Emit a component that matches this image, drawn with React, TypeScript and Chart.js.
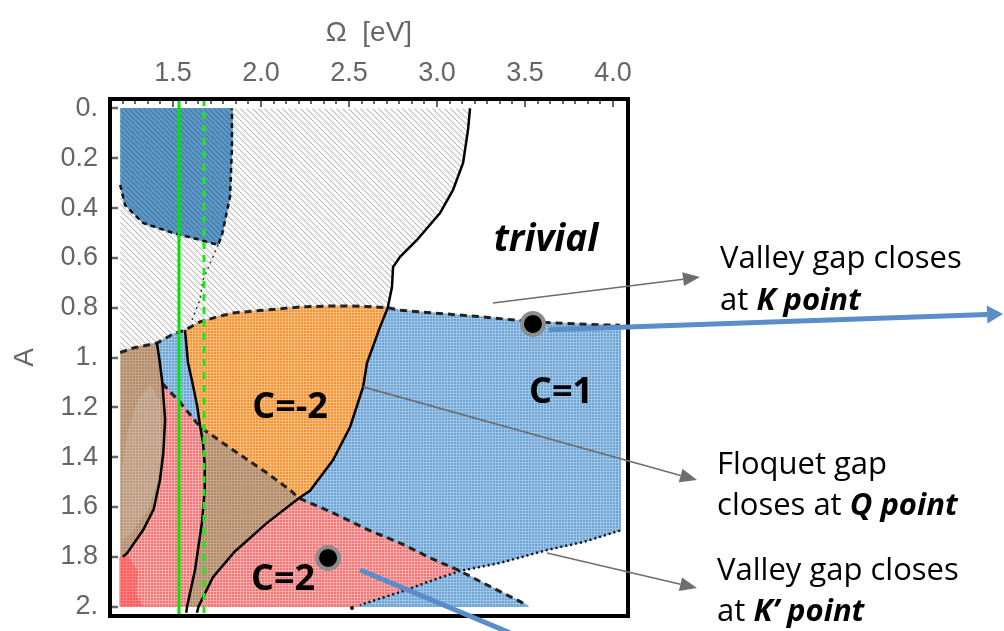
import React, { useEffect, useRef } from 'react';
import { Chart, registerables } from 'chart.js';

Chart.register(...registerables);

type Pt = [number, number];

// ---------- axes ----------
const OMEGA_MIN = 1.142;
const OMEGA_MAX = 4.085;
const A_MIN = -0.038;
const A_MAX = 2.038;
const OMEGA_TICKS = [1.5, 2.0, 2.5, 3.0, 3.5, 4.0];
const OMEGA_TICK_LABELS = ['1.5', '2.0', '2.5', '3.0', '3.5', '4.0'];
const A_TICKS = [0, 0.2, 0.4, 0.6, 0.8, 1.0, 1.2, 1.4, 1.6, 1.8, 2.0];
const A_TICK_LABELS = ['0.', '0.2', '0.4', '0.6', '0.8', '1.', '1.2', '1.4', '1.6', '1.8', '2.'];
const OMEGA_MINOR_STEP = 1 / 14;

// ---------- phase boundaries (Omega [eV], A) ----------
// solid line: Floquet gap closes at Q point
const Q_CURVE: Pt[] = [
  [3.1875, 0.0], [3.176, 0.086], [3.148, 0.219], [3.091, 0.327], [3.017, 0.42],
  [2.886, 0.528], [2.79, 0.596], [2.75, 0.637], [2.744, 0.717], [2.72, 0.8],
  [2.676, 0.878], [2.602, 1.022], [2.58, 1.118], [2.506, 1.279], [2.409, 1.412],
  [2.278, 1.535], [2.215, 1.565], [2.034, 1.664], [1.85, 1.78], [1.727, 1.882],
  [1.645, 2.0], [1.636, 2.025],
];
// dashed line: valley gap closes at K point
const VK_TOP: Pt[] = [
  [1.2, 0.98], [1.273, 0.962], [1.409, 0.942], [1.5, 0.906], [1.568, 0.89],
  [1.653, 0.857], [1.75, 0.837], [1.841, 0.821], [2.034, 0.809], [2.222, 0.797],
  [2.409, 0.793], [2.506, 0.793], [2.6, 0.795], [2.72, 0.8], [2.79, 0.81],
  [2.977, 0.821], [3.261, 0.837], [3.545, 0.857], [3.926, 0.869], [4.04, 0.87],
];
const CURVE_A: Pt[] = [
  [1.409, 0.942], [1.425, 1.02], [1.44, 1.105], [1.455, 1.25], [1.445, 1.384],
  [1.426, 1.492], [1.39, 1.61], [1.33, 1.693], [1.24, 1.785], [1.215, 1.8],
];
const CURVE_B: Pt[] = [
  [1.568, 0.89], [1.585, 1.02], [1.61, 1.1], [1.636, 1.19], [1.655, 1.28],
  [1.67, 1.34], [1.68, 1.43], [1.68, 1.53], [1.665, 1.66], [1.64, 1.78],
  [1.625, 1.853], [1.58, 2.0], [1.575, 2.025],
];
const D2: Pt[] = [
  [1.44, 1.105], [1.54, 1.18], [1.655, 1.28], [1.841, 1.371], [2.034, 1.464],
  [2.165, 1.532], [2.215, 1.565], [2.409, 1.624], [2.602, 1.69], [2.79, 1.745],
  [2.977, 1.81], [3.13, 1.857], [3.261, 1.905], [3.511, 1.994],
];
// dotted line: valley gap closes at K' point
const D3: Pt[] = [
  [4.04, 1.695], [3.83, 1.741], [3.625, 1.773], [3.358, 1.825], [3.13, 1.857],
  [2.977, 1.894], [2.79, 1.942], [2.5625, 1.994],
];
const BH_REGION: Pt[] = [
  [1.2, 0.0], [1.835, 0.0], [1.835, 0.155], [1.824, 0.355], [1.778, 0.508],
  [1.756, 0.548], [1.653, 0.528], [1.5, 0.5], [1.33, 0.46], [1.227, 0.388], [1.2, 0.307],
];
const BH_EDGE: Pt[] = [
  [1.2, 0.307], [1.227, 0.388], [1.33, 0.46], [1.5, 0.5], [1.653, 0.528],
  [1.756, 0.548], [1.778, 0.508], [1.824, 0.355], [1.835, 0.155], [1.835, 0.0],
];
const THIN_DOTS: Pt[] = [[1.756, 0.548], [1.727, 0.596], [1.67, 0.689], [1.653, 0.769], [1.608, 0.849]];
const BROWN_LIGHT: Pt[] = [
  [1.369, 1.11], [1.426, 1.17], [1.438, 1.331], [1.415, 1.492], [1.358, 1.612],
  [1.256, 1.713], [1.21, 1.733], [1.21, 1.452], [1.244, 1.291], [1.301, 1.17],
];
const RED_SPOT: Pt[] = [[1.2, 1.8], [1.24, 1.79], [1.3, 1.86], [1.29, 1.95], [1.33, 2.0], [1.2, 2.0]];
const GREEN_SOLID: Pt[] = [[1.534, A_MIN], [1.534, A_MAX]];
const GREEN_DASHED: Pt[] = [[1.676, A_MIN], [1.676, A_MAX]];
const MARK_POINTS: Pt[] = [[3.545, 0.865], [2.381, 1.805]];
const SMALL_DOT: Pt[] = [[2.517, 2.006]];

// ---------- annotations ----------
const GREY_ARROWS: [Pt, Pt][] = [
  [[3.318, 0.781], [4.494, 0.677]],
  [[2.58, 1.118], [4.477, 1.492]],
  [[3.625, 1.785], [4.477, 1.926]],
];
const BLUE_ARROW: [Pt, Pt] = [[3.636, 0.889], [6.216, 0.825]];
const BLUE_LINE: [Pt, Pt] = [[2.5625, 1.853], [3.53, 2.14]];
const REGION_LABELS: { text: string; at: Pt; italic: boolean }[] = [
  { text: 'trivial', at: [3.619, 0.532], italic: true },
  { text: 'C=-2', at: [2.165, 1.203], italic: false },
  { text: 'C=1', at: [3.705, 1.143], italic: false },
  { text: 'C=2', at: [2.125, 1.893], italic: false },
];
const NOTES: { at: Pt; plain: string; bold: string }[] = [
  { at: [4.608, 0.641], plain: 'Valley gap closes', bold: '' },
  { at: [4.608, 0.809], plain: 'at ', bold: 'K point' },
  { at: [4.591, 1.468], plain: 'Floquet gap', bold: '' },
  { at: [4.591, 1.633], plain: 'closes at ', bold: 'Q point' },
  { at: [4.591, 1.894], plain: 'Valley gap closes', bold: '' },
  { at: [4.591, 2.058], plain: 'at ', bold: 'K\u2019 point' },
];

const seg = (arr: Pt[], i: number, j: number): Pt[] =>
  i <= j ? arr.slice(i, j + 1) : arr.slice(j, i + 1).reverse();
const toXY = (arr: Pt[]) => arr.map(([x, y]) => ({ x, y }));

const NOTE_FONT = '"Open Sans"';

export default function App() {
  const ref = useRef<HTMLCanvasElement | null>(null);

  useEffect(() => {
    const canvas = ref.current;
    if (!canvas) return;
    const mainCtx = canvas.getContext('2d')!;

    const makeGrid = (base: string, light: string, size = 3) => {
      const c = document.createElement('canvas');
      c.width = size; c.height = size;
      const g = c.getContext('2d')!;
      g.fillStyle = base; g.fillRect(0, 0, size, size);
      g.fillStyle = light; g.fillRect(0, 0, size, 1); g.fillRect(0, 0, 1, size);
      return mainCtx.createPattern(c, 'repeat')!;
    };
    const makeHatch = (bg: string, fg: string, size = 5, lw = 1) => {
      const c = document.createElement('canvas');
      c.width = size; c.height = size;
      const g = c.getContext('2d')!;
      g.fillStyle = bg; g.fillRect(0, 0, size, size);
      g.strokeStyle = fg; g.lineWidth = lw;
      g.beginPath();
      for (const o of [-size, 0, size]) { g.moveTo(o, 0); g.lineTo(o + size, size); }
      g.stroke();
      return mainCtx.createPattern(c, 'repeat')!;
    };

    const P = {
      grey: makeHatch('#ffffff', '#bdbdbd', 6, 1.1),
      blueHatch: makeHatch('#5f9bca', '#457aa3', 5, 1.3),
      orange: makeGrid('#f39535', '#f8bb7c'),
      blue: makeGrid('#6aa3d4', '#a0c5e7'),
      red: makeGrid('#f27474', '#f9acac'),
      brown: makeGrid('#b28a68', '#c6a68a'),
      brownLight: makeGrid('#bc9a7e', '#ccb29c'),
      redSpot: makeGrid('#ff5858', '#ff8080'),
    };

    const G = [[1.2, 0.0] as Pt, ...seg(Q_CURVE, 0, 9), ...seg(VK_TOP, 12, 0)];
    const O = [...seg(VK_TOP, 4, 13), ...seg(Q_CURVE, 10, 16), ...seg(D2, 5, 2), ...seg(CURVE_B, 3, 1)];
    const S = [...seg(VK_TOP, 2, 4), ...seg(CURVE_B, 1, 4), ...seg(D2, 1, 0), CURVE_A[1]];
    const R1 = [...seg(CURVE_A, 2, 9), [1.2, 1.8] as Pt, [1.2, 2.0] as Pt, ...seg(CURVE_B, 11, 4), D2[1]];
    const B1 = [...seg(VK_TOP, 0, 2), ...seg(CURVE_A, 1, 9), [1.2, 1.8] as Pt];
    const B2 = [...seg(D2, 2, 6), ...seg(Q_CURVE, 17, 20), ...seg(CURVE_B, 11, 5)];
    const R2 = [...seg(D2, 6, 11), ...seg(D3, 5, 7), [2.5625, 2.0] as Pt, ...seg(Q_CURVE, 20, 17)];
    const C1 = [...seg(VK_TOP, 13, 19), ...seg(D3, 0, 4), ...seg(D2, 10, 6), ...seg(Q_CURVE, 15, 10)];
    const C1b = [...seg(D2, 11, 13), [3.52, 2.0] as Pt, [2.5625, 2.0] as Pt, ...seg(D3, 7, 5)];

    const fillSet = (pts: Pt[], pattern: any, edge: string | null) => ({
      data: toXY(pts), showLine: true, fill: 'shape', backgroundColor: pattern,
      borderColor: edge || 'rgba(0,0,0,0)', borderWidth: edge ? 1 : 0,
      pointRadius: 0, pointHoverRadius: 0, tension: 0,
    });
    const lineSet = (pts: Pt[], color: string, width: number, dash: number[] = []) => ({
      data: toXY(pts), showLine: true, fill: false, borderColor: color, backgroundColor: color,
      borderWidth: width, borderDash: dash, pointRadius: 0, pointHoverRadius: 0, tension: 0,
      borderCapStyle: 'butt',
    });

    const list: any[] = [
      fillSet(G, P.grey, null),
      fillSet(BH_REGION, P.blueHatch, '#5790bd'),
      fillSet(B1, P.brown, '#b89272'),
      fillSet(BROWN_LIGHT, P.brownLight, null),
      fillSet(S, P.blue, '#78abd8'),
      fillSet(R1, P.red, '#f48585'),
      fillSet(RED_SPOT, P.redSpot, null),
      fillSet(B2, P.brown, '#b89272'),
      fillSet(O, P.orange, '#f4a152'),
      fillSet(R2, P.red, '#f48585'),
      fillSet(C1, P.blue, '#78abd8'),
      fillSet(C1b, P.blue, '#78abd8'),
      lineSet(THIN_DOTS, '#333333', 1.5, [2, 4]),
      lineSet(BH_EDGE, '#111111', 2.5, [5, 4]),
      lineSet(D3, '#111111', 2.5, [2, 3]),
      lineSet(D2, '#222222', 3, [7, 5]),
      lineSet(VK_TOP, '#222222', 3, [7, 5]),
      lineSet(CURVE_A, '#000000', 2.5),
      lineSet(CURVE_B, '#000000', 2.5),
      lineSet(Q_CURVE, '#000000', 2.5),
      lineSet(GREEN_SOLID, '#00e400', 3),
      lineSet(GREEN_DASHED, '#22e622', 3, [7, 6]),
      { data: toXY(SMALL_DOT), showLine: false, pointRadius: 2, pointBackgroundColor: '#111', pointBorderWidth: 0 },
      {
        data: toXY(MARK_POINTS), showLine: false, pointRadius: 11, pointBackgroundColor: '#000',
        pointBorderColor: '#8c8c8c', pointBorderWidth: 4, clip: false,
      },
    ];
    const datasets = list.map((d, i) => ({ ...d, order: list.length - i }));

    const arrow = (ctx: CanvasRenderingContext2D, x1: number, y1: number, x2: number, y2: number,
      color: string, width: number, headLen: number, headHalf: number) => {
      const ang = Math.atan2(y2 - y1, x2 - x1);
      const bx = x2 - headLen * Math.cos(ang);
      const by = y2 - headLen * Math.sin(ang);
      ctx.strokeStyle = color; ctx.fillStyle = color; ctx.lineWidth = width; ctx.setLineDash([]);
      ctx.beginPath(); ctx.moveTo(x1, y1); ctx.lineTo(bx, by); ctx.stroke();
      ctx.beginPath();
      ctx.moveTo(x2, y2);
      ctx.lineTo(bx + headHalf * Math.sin(ang), by - headHalf * Math.cos(ang));
      ctx.lineTo(bx - headHalf * Math.sin(ang), by + headHalf * Math.cos(ang));
      ctx.closePath(); ctx.fill();
    };

    const annot = {
      id: 'annot',
      afterDatasetsDraw(chart: any) {
        const { ctx, chartArea: a, scales } = chart;
        const xs = scales.x, ys = scales.y;
        ctx.save();
        ctx.strokeStyle = '#666'; ctx.lineWidth = 2; ctx.setLineDash([]);
        for (let k = -6; k <= 40; k++) {
          const v = 1.5 + k * OMEGA_MINOR_STEP;
          if (v < OMEGA_MIN + 0.02 || v > OMEGA_MAX - 0.02) continue;
          const px = Math.round(xs.getPixelForValue(v));
          const len = k % 7 === 0 ? 8 : 5;
          ctx.beginPath(); ctx.moveTo(px, a.top); ctx.lineTo(px, a.top + len); ctx.stroke();
        }
        ctx.lineWidth = 2.5;
        for (const v of A_TICKS) {
          const py = Math.round(ys.getPixelForValue(v));
          ctx.beginPath(); ctx.moveTo(a.left, py); ctx.lineTo(a.left + 8, py); ctx.stroke();
        }
        ctx.strokeStyle = '#000'; ctx.lineWidth = 4;
        ctx.strokeRect(a.left, a.top, a.right - a.left, a.bottom - a.top);
        // region labels
        ctx.fillStyle = '#000'; ctx.textAlign = 'center'; ctx.textBaseline = 'middle';
        for (const l of REGION_LABELS) {
          ctx.font = l.italic ? `italic bold 37px ${NOTE_FONT}` : `bold 36px ${NOTE_FONT}`;
          ctx.fillText(l.text, xs.getPixelForValue(l.at[0]), ys.getPixelForValue(l.at[1]));
        }
        ctx.restore();
      },
      afterDraw(chart: any) {
        const { ctx, scales } = chart;
        const xs = scales.x, ys = scales.y;
        const X = (v: number) => xs.getPixelForValue(v);
        const Y = (v: number) => ys.getPixelForValue(v);
        ctx.save();
        for (const [f, t] of GREY_ARROWS) {
          arrow(ctx, X(f[0]), Y(f[1]), X(t[0]), Y(t[1]), '#6e6e6e', 1.6, 17, 7);
        }
        arrow(ctx, X(BLUE_ARROW[0][0]), Y(BLUE_ARROW[0][1]), X(BLUE_ARROW[1][0]), Y(BLUE_ARROW[1][1]),
          '#5b8dc8', 5, 16, 9);
        ctx.strokeStyle = '#5b8dc8'; ctx.lineWidth = 5;
        ctx.beginPath();
        ctx.moveTo(X(BLUE_LINE[0][0]), Y(BLUE_LINE[0][1]));
        ctx.lineTo(X(BLUE_LINE[1][0]), Y(BLUE_LINE[1][1]));
        ctx.stroke();
        ctx.fillStyle = '#000'; ctx.textAlign = 'left'; ctx.textBaseline = 'alphabetic';
        for (const n of NOTES) {
          let x = X(n.at[0]);
          const y = Y(n.at[1]);
          ctx.font = `31px ${NOTE_FONT}`;
          ctx.fillText(n.plain, x, y);
          x += ctx.measureText(n.plain).width;
          if (n.bold) {
            ctx.font = `italic bold 31px ${NOTE_FONT}`;
            ctx.fillText(n.bold, x, y);
          }
        }
        ctx.restore();
      },
    };

    const chart = new Chart(canvas, {
      type: 'scatter',
      data: { datasets },
      options: {
        animation: false,
        responsive: false,
        events: [],
        layout: { padding: { left: 0, top: 0, right: 376, bottom: 15 } },
        plugins: { legend: { display: false }, tooltip: { enabled: false } },
        scales: {
          x: {
            type: 'linear', position: 'top', min: OMEGA_MIN, max: OMEGA_MAX,
            afterBuildTicks: (s: any) => { s.ticks = OMEGA_TICKS.map((v) => ({ value: v })); },
            afterFit: (s: any) => { s.height = 99; s.paddingLeft = 0; s.paddingRight = 0; },
            ticks: {
              autoSkip: false, maxRotation: 0, padding: 9, color: '#666',
              font: { family: 'Liberation Sans', size: 27 },
              callback: (_v: any, i: number) => OMEGA_TICK_LABELS[i],
            },
            grid: { display: false, drawTicks: false },
            border: { display: false },
            title: {
              display: true, text: '\u03a9  [eV]', color: '#666',
              font: { family: 'Liberation Sans', size: 28 }, padding: { top: 16, bottom: 0 },
            },
          },
          y: {
            type: 'linear', position: 'left', reverse: true, min: A_MIN, max: A_MAX,
            afterBuildTicks: (s: any) => { s.ticks = A_TICKS.map((v) => ({ value: v })); },
            afterFit: (s: any) => { s.width = 110; s.paddingTop = 0; s.paddingBottom = 0; },
            ticks: {
              autoSkip: false, padding: 12, color: '#666',
              font: { family: 'Liberation Sans', size: 27 },
              callback: (_v: any, i: number) => A_TICK_LABELS[i],
            },
            grid: { display: false, drawTicks: false },
            border: { display: false },
            title: {
              display: true, text: 'A', color: '#666',
              font: { family: 'Liberation Sans', size: 28 }, padding: { top: 8, bottom: 0 },
            },
          },
        },
      } as any,
      plugins: [annot],
    });
    return () => chart.destroy();
  }, []);

  return (
    <div style={{ position: 'fixed', left: 0, top: 0, width: 1004, height: 631, background: '#fff' }}>
      <canvas ref={ref} width={1004} height={631} />
    </div>
  );
}
